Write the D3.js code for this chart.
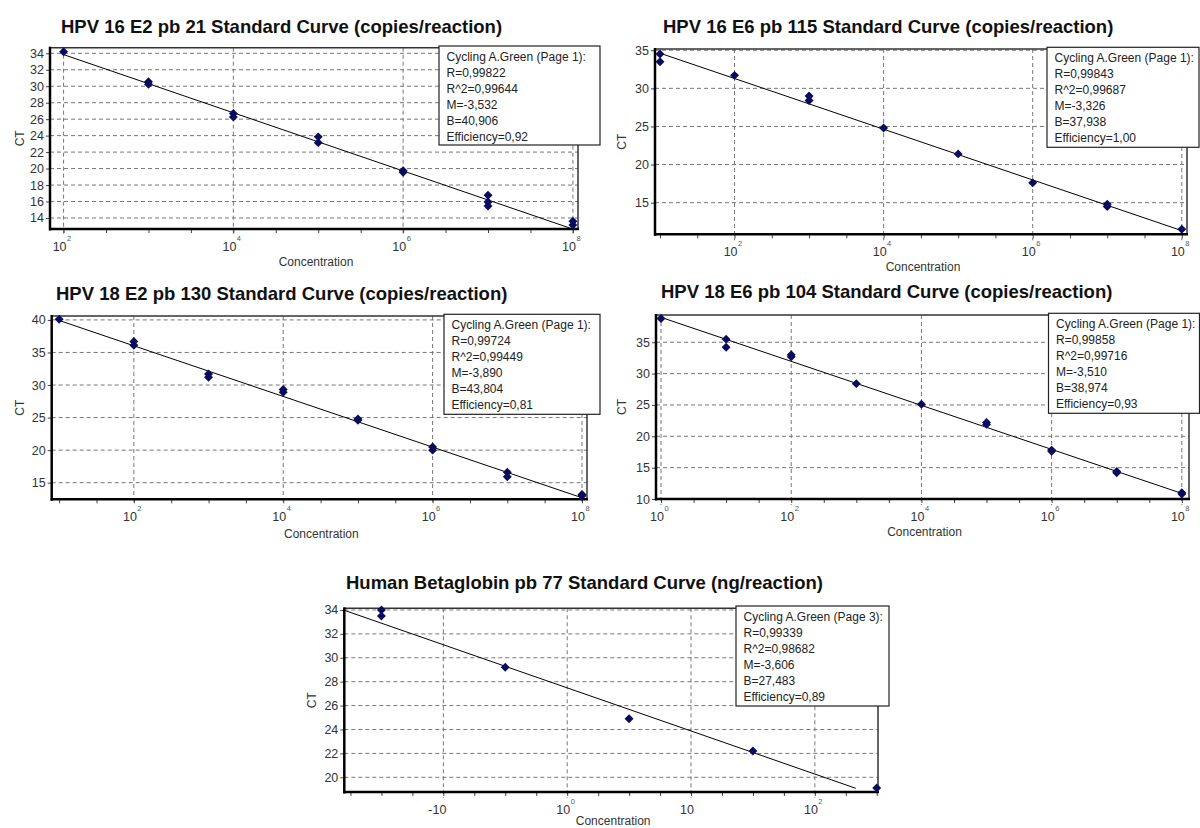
<!DOCTYPE html>
<html>
<head>
<meta charset="utf-8">
<script src="https://cdn.jsdelivr.net/npm/d3@7"></script>
<style>
  body { margin: 0; background: #fff; }
  svg { display: block; font-family: "Liberation Sans", Arial, sans-serif; }
</style>
</head>
<body>
<svg id="chart" width="1200" height="828"></svg>
<script>

// ---- data ----

const titles = [
    'HPV 16 E2 pb 21 Standard Curve (copies/reaction)',
    'HPV 16 E6 pb 115 Standard Curve (copies/reaction)',
    'HPV 18 E2 pb 130 Standard Curve (copies/reaction)',
    'HPV 18 E6 pb 104 Standard Curve (copies/reaction)',
    'Human Betaglobin pb 77 Standard Curve (ng/reaction)'
]

const hpv16e2Conc = [1e2, 1e3, 1e3, 1e4, 1e4, 1e5, 1e5, 1e6, 1e6, 1e7, 1e7, 1e7, 1e8, 1e8]
const hpv16e2Ct   = [34.2, 30.55, 30.25, 26.7, 26.25, 23.85, 23.15, 19.75, 19.55, 16.75, 15.95, 15.45, 13.6, 13.15]

const hpv16e6Conc = [1e1, 1e1, 1e2, 1e3, 1e3, 1e4, 1e5, 1e6, 1e7, 1e7, 1e8]
const hpv16e6Ct   = [34.5, 33.5, 31.7, 29.0, 28.4, 24.8, 21.4, 17.6, 14.8, 14.5, 11.5]

const hpv18e2Conc = [1e1, 1e2, 1e2, 1e3, 1e3, 1e4, 1e4, 1e5, 1e5, 1e6, 1e6, 1e7, 1e7, 1e8, 1e8]
const hpv18e2Ct   = [40.1, 36.7, 36.1, 31.7, 31.2, 29.3, 28.9, 24.8, 24.6, 20.5, 20.0, 16.6, 15.9, 13.2, 13.0]

const hpv18e6Conc = [1e0, 1e1, 1e1, 1e2, 1e2, 1e3, 1e4, 1e5, 1e5, 1e6, 1e6, 1e7, 1e7, 1e8, 1e8]
const hpv18e6Ct   = [38.8, 35.5, 34.2, 33.0, 32.7, 28.4, 25.1, 22.2, 21.9, 17.8, 17.6, 14.4, 14.2, 11.0, 10.8]

const betaglobinConc = [0.0316, 0.0316, 0.316, 3.16, 31.6, 316]
const betaglobinCt   = [34.0, 33.5, 29.2, 24.9, 22.2, 19.1]

// slope M and intercept B of each fit, and the concentration span the fit line covers
const fitM = [-3.532, -3.326, -3.890, -3.510, -3.606]
const fitB = [40.906, 37.938, 43.804, 38.974, 27.483]
const fitSpan = [[1e2, 1e8], [1e1, 1e8], [1e1, 1e8], [1e0, 1e8], [0.0158, 214]]

const stats = [
    ['Cycling A.Green (Page 1):', 'R=0,99822', 'R^2=0,99644', 'M=-3,532', 'B=40,906', 'Efficiency=0,92'],
    ['Cycling A.Green (Page 1):', 'R=0,99843', 'R^2=0,99687', 'M=-3,326', 'B=37,938', 'Efficiency=1,00'],
    ['Cycling A.Green (Page 1):', 'R=0,99724', 'R^2=0,99449', 'M=-3,890', 'B=43,804', 'Efficiency=0,81'],
    ['Cycling A.Green (Page 1):', 'R=0,99858', 'R^2=0,99716', 'M=-3,510', 'B=38,974', 'Efficiency=0,93'],
    ['Cycling A.Green (Page 3):', 'R=0,99339', 'R^2=0,98682', 'M=-3,606', 'B=27,483', 'Efficiency=0,89']
]

// labelled x ticks (decades), their base text and the small exponent drawn next to it
const xTickDecades = [[2, 4, 6, 8], [2, 4, 6, 8], [2, 4, 6, 8], [0, 2, 4, 6, 8], [-1, 0, 1, 2]]
const xTickBase = [['10', '10', '10', '10'], ['10', '10', '10', '10'], ['10', '10', '10', '10'],
                   ['10', '10', '10', '10', '10'], ['-10', '10', '10', '10']]
const xTickExp = [['2', '4', '6', '8'], ['2', '4', '6', '8'], ['2', '4', '6', '8'],
                  ['0', '2', '4', '6', '8'], ['', '0', '', '2']]

const yTicks = [
    [14, 16, 18, 20, 22, 24, 26, 28, 30, 32, 34],
    [15, 20, 25, 30, 35],
    [15, 20, 25, 30, 35, 40],
    [10, 15, 20, 25, 30, 35],
    [20, 22, 24, 26, 28, 30, 32, 34]
]

const series = [
    [hpv16e2Conc, hpv16e2Ct],
    [hpv16e6Conc, hpv16e6Ct],
    [hpv18e2Conc, hpv18e2Ct],
    [hpv18e6Conc, hpv18e6Ct],
    [betaglobinConc, betaglobinCt]
]

// ---- layout (pixels) and axis extents ----

const layout = [
    { l: 50,    r: 578,  t: 47.7,  b: 229,   xd: [1.84, 8.06],   yd: [12.66, 34.68], minor: 0.5,
      titleX: 61,  titleY: 33,  box: [439, 46, 161, 99],    ctX: 20,    labY: 266 },
    { l: 655,   r: 1187, t: 49,    b: 234.3, xd: [0.933, 8.07],  yd: [10.85, 35.16], minor: 0.5,
      titleX: 663, titleY: 33,  box: [1047, 47.3, 152, 100], ctX: 621.7, labY: 271 },
    { l: 51.7,  r: 587,  t: 316,   b: 499.3, xd: [0.9, 8.067],   yd: [12.45, 40.6],  minor: 0.5,
      titleX: 56,  titleY: 300, box: [444, 314.3, 156, 100], ctX: 20,    labY: 537.5 },
    { l: 656,   r: 1189, t: 315,   b: 499,   xd: [-0.077, 8.11], yd: [10, 39.35],    minor: 0.5,
      titleX: 661, titleY: 298, box: [1048.5, 313.3, 151, 100], ctX: 621.7, labY: 536 },
    { l: 344.3, r: 878,  t: 608.3, b: 792,   xd: [-1.80, 2.51],  yd: [18.77, 34.14], minor: 0.25,
      titleX: 346, titleY: 589, box: [736, 606, 153, 100],   ctX: 311.7, labY: 825 }
]

const svg = d3.select('#chart')

layout.forEach((p, i) => {

    const g = svg.append('g')

    const x = d3.scaleLog().domain(p.xd.map(e => Math.pow(10, e))).range([p.l, p.r])
    const y = d3.scaleLinear().domain(p.yd).range([p.b, p.t])

    // title
    g.append('text')
        .attr('x', p.titleX).attr('y', p.titleY)
        .attr('font-size', 18.5).attr('font-weight', 'bold').attr('fill', '#111')
        .text(titles[i])

    // dashed grid
    const majors = xTickDecades[i].map(e => Math.pow(10, e))
    g.append('g').selectAll('line').data(yTicks[i]).join('line')
        .attr('x1', p.l).attr('x2', p.r)
        .attr('y1', d => y(d)).attr('y2', d => y(d))
        .attr('stroke', '#777').attr('stroke-dasharray', '4,3')
    g.append('g').selectAll('line').data(majors).join('line')
        .attr('x1', d => x(d)).attr('x2', d => x(d))
        .attr('y1', p.t).attr('y2', p.b + 6)
        .attr('stroke', '#777').attr('stroke-dasharray', '4,3')

    // minor ticks on the bottom axis
    const minors = d3.range(Math.ceil(p.xd[0] / p.minor) * p.minor, p.xd[1] + 1e-9, p.minor)
        .map(e => Math.pow(10, e))
    const xaxis = d3.axisBottom(x).tickValues(minors).tickSize(4).tickFormat('')
    const xg = g.append('g').attr('transform', `translate(0,${p.b})`).call(xaxis)
    xg.selectAll('.tick line').attr('stroke', '#444')

    const yaxis = d3.axisLeft(y).tickValues(yTicks[i]).tickSize(4).tickPadding(2)
    const yg = g.append('g').attr('transform', `translate(${p.l},0)`).call(yaxis)
    yg.selectAll('.tick line').attr('stroke', '#444')
    yg.selectAll('.tick text').attr('font-size', 12.5).attr('fill', '#333')
        .attr('font-family', '"Liberation Sans", Arial, sans-serif')

    // remove the axis domain lines, the frame is drawn below
    g.selectAll('.domain').remove()

    // x tick labels: "10" with a small exponent up at its right
    const lab = g.append('g').selectAll('g').data(majors).join('g')
    lab.append('text')
        .attr('x', d => x(d) + 3).attr('y', p.b + 22)
        .attr('text-anchor', 'end').attr('font-size', 12.5).attr('fill', '#333')
        .text((d, k) => xTickBase[i][k])
    lab.append('text')
        .attr('x', d => x(d) + 3.5).attr('y', p.b + 12)
        .attr('text-anchor', 'start').attr('font-size', 7.5).attr('fill', '#555')
        .text((d, k) => xTickExp[i][k])

    // frame
    g.append('line').attr('x1', p.l).attr('x2', p.r).attr('y1', p.t).attr('y2', p.t)
        .attr('stroke', '#333').attr('stroke-width', 1.5)
    g.append('line').attr('x1', p.r).attr('x2', p.r).attr('y1', p.t).attr('y2', p.b)
        .attr('stroke', '#333').attr('stroke-width', 1.5)
    g.append('line').attr('x1', p.l).attr('x2', p.l).attr('y1', p.t - 1).attr('y2', p.b + 1.5)
        .attr('stroke', '#000').attr('stroke-width', 2.5)
    g.append('line').attr('x1', p.l - 1).attr('x2', p.r + 1).attr('y1', p.b).attr('y2', p.b)
        .attr('stroke', '#000').attr('stroke-width', 2.5)

    // fitted standard curve
    const line = d3.line().x(d => x(d)).y(d => y(fitM[i] * Math.log10(d) + fitB[i]))
    g.append('path').datum(fitSpan[i]).attr('d', line)
        .attr('fill', 'none').attr('stroke', '#000').attr('stroke-width', 1)

    // replicate points, small square diamonds
    const [conc, ct] = series[i]
    g.append('g').selectAll('path').data(conc).join('path')
        .attr('transform', (d, k) => `translate(${x(d)},${y(ct[k])}) rotate(45)`)
        .attr('d', d3.symbol(d3.symbolSquare).size(40))
        .attr('fill', '#0b0b5e')

    // axis titles
    g.append('text')
        .attr('transform', `translate(${p.ctX + 4},${(p.t + p.b) / 2}) rotate(-90)`)
        .attr('text-anchor', 'middle').attr('font-size', 12).attr('fill', '#333')
        .text('CT')
    g.append('text')
        .attr('x', (p.l + p.r) / 2 + 2).attr('y', p.labY)
        .attr('text-anchor', 'middle').attr('font-size', 12).attr('fill', '#333')
        .text('Concentration')

    // statistics box
    const [bx, by, bw, bh] = p.box
    g.append('rect').attr('x', bx).attr('y', by).attr('width', bw).attr('height', bh)
        .attr('fill', '#fff').attr('stroke', '#222').attr('stroke-width', 1.2)
    g.append('g').selectAll('text').data(stats[i]).join('text')
        .attr('x', bx + 7.5).attr('y', (d, k) => by + 15 + k * 16)
        .attr('font-size', 12).attr('fill', '#222')
        .text(d => d)

})

</script>
</body>
</html>
